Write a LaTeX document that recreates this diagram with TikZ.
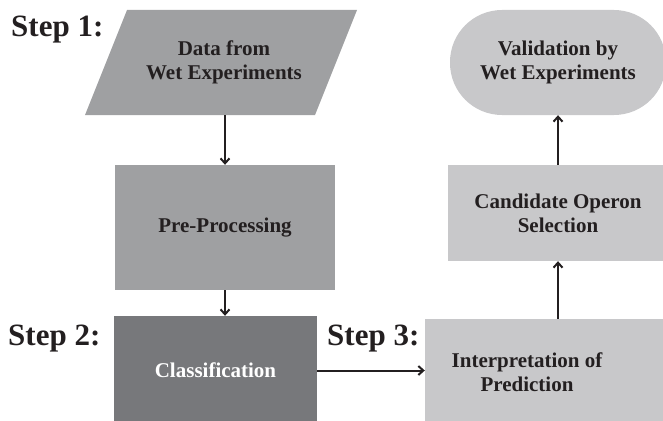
\documentclass[tikz,border=0pt]{standalone}
\usepackage{fontspec}
\setmainfont{Liberation Serif}
\usetikzlibrary{arrows.meta}
\definecolor{midgray}{HTML}{9FA0A2}
\definecolor{darkgray}{HTML}{77787B}
\definecolor{lightgray}{HTML}{C8C8CA}
\definecolor{ink}{HTML}{231F20}
\tikzset{
  boxtext/.style={font=\fontsize{21}{24}\selectfont\bfseries, text=ink, align=center, inner sep=0pt},
  flowbox/.style={boxtext, rectangle, draw=none},
  steplabel/.style={font=\fontsize{31}{34}\selectfont\bfseries, text=ink, anchor=base west, inner sep=0pt},
  arr/.style={draw=ink, line width=2pt, -{Straight Barb[length=5pt,width=9pt,line width=2pt]}},
}
\begin{document}
\begin{tikzpicture}[x=1pt,y=-1pt]
\useasboundingbox (0,0) rectangle (663,420);
% parallelogram
\fill[midgray] (127,10) -- (357,10) -- (315,115) -- (85,115) -- cycle;
\node[flowbox, minimum width=230pt, minimum height=105pt] (data) at (224,62.5) {Data from\\Wet Experiments};
\node[flowbox, fill=midgray, minimum width=220pt, minimum height=125pt] (pre) at (225,227.5) {Pre-Processing};
\node[flowbox, fill=darkgray, text=white, minimum width=203pt, minimum height=109pt] (cls) at (215.5,370.5) {Classification};
\node[flowbox, fill=lightgray, minimum width=204pt, minimum height=106pt] (interp) at (527,372) {Interpretation of\\Prediction};
\fill[lightgray] (interp.north east) rectangle (668,425);
\node[flowbox, fill=lightgray, minimum width=220pt, minimum height=96pt] (cand) at (558,213) {Candidate Operon\\Selection};
\node[flowbox, fill=lightgray, rounded corners=52pt, minimum width=216pt, minimum height=105pt] (val) at (558,62.5) {Validation by\\Wet Experiments};
% step labels
\node[steplabel] (s1) at (11,37) {Step 1:};
\node[steplabel] (s2) at (8,345) {Step 2:};
\node[steplabel] (s3) at (327,345) {Step 3:};
% arrows
\draw[arr] (data.south -| pre.north) -- (pre.north);
\draw[arr] (pre.south) -- (pre.south |- cls.north);
\draw[arr] (cls.east) -- (cls.east -| interp.west);
\draw[arr] (cand.south |- interp.north) -- (cand.south);
\draw[arr] (cand.north) -- (val.south);
\end{tikzpicture}
\end{document}
